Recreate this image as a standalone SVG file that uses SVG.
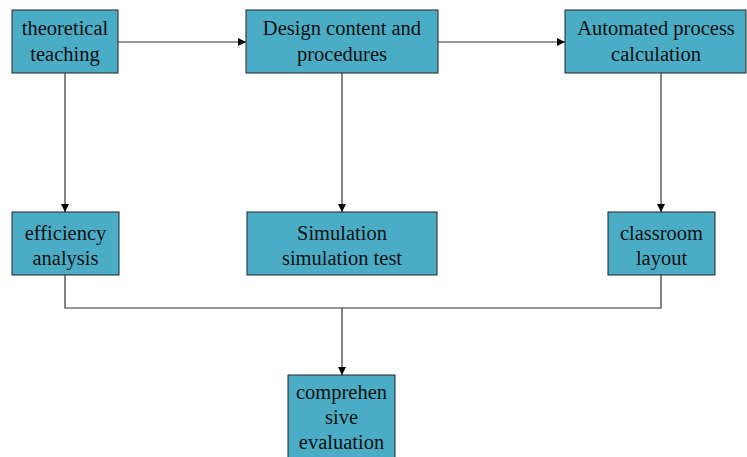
<svg xmlns="http://www.w3.org/2000/svg" width="747" height="457" viewBox="0 0 747 457">
<style>
.box{fill:#4BACC6;stroke:#222;stroke-width:1}
.t{font-family:"Liberation Serif","Times New Roman",serif;font-size:20.5px;fill:#111;text-anchor:middle}
.c{fill:none;stroke:#333;stroke-width:1.2}
</style>
<defs>
<marker id="ah" viewBox="0 0 10 10" refX="10" refY="5" markerWidth="8" markerHeight="8" markerUnits="userSpaceOnUse" orient="auto">
<path d="M0,0 L10,5 L0,10 z" fill="#000"/>
</marker>
</defs>
<rect width="747" height="457" fill="#fff"/>
<g id="connectors">
<line class="c" x1="118" y1="42" x2="246" y2="42" marker-end="url(#ah)"/>
<line class="c" x1="438" y1="42" x2="565" y2="42" marker-end="url(#ah)"/>
<line class="c" x1="65" y1="73" x2="65" y2="212" marker-end="url(#ah)"/>
<line class="c" x1="342" y1="73" x2="342" y2="212" marker-end="url(#ah)"/>
<line class="c" x1="661" y1="73" x2="661" y2="212" marker-end="url(#ah)"/>
<polyline class="c" points="65,275 65,308 661,308 661,275"/>
<line class="c" x1="342" y1="308" x2="342" y2="375" marker-end="url(#ah)"/>
</g>
<g id="theoretical">
<rect class="box" x="12" y="10" width="106" height="63"/>
<text class="t" x="65" y="35">theoretical</text>
<text class="t" x="65" y="61">teaching</text>
</g>
<g id="design">
<rect class="box" x="246" y="10" width="192" height="63"/>
<text class="t" x="342" y="35">Design content and</text>
<text class="t" x="342" y="61">procedures</text>
</g>
<g id="automated">
<rect class="box" x="565" y="10" width="181" height="63"/>
<text class="t" x="656" y="35">Automated process</text>
<text class="t" x="656" y="61">calculation</text>
</g>
<g id="efficiency">
<rect class="box" x="12" y="212" width="107" height="63"/>
<text class="t" x="65.5" y="240">efficiency</text>
<text class="t" x="65.5" y="265">analysis</text>
</g>
<g id="simulation">
<rect class="box" x="247" y="212" width="190" height="63"/>
<text class="t" x="342" y="240">Simulation</text>
<text class="t" x="342" y="265">simulation test</text>
</g>
<g id="classroom">
<rect class="box" x="608" y="212" width="107" height="63"/>
<text class="t" x="661.5" y="240">classroom</text>
<text class="t" x="661.5" y="265">layout</text>
</g>
<g id="comprehensive">
<rect class="box" x="288" y="375" width="107" height="90"/>
<text class="t" x="341.5" y="399">comprehen</text>
<text class="t" x="341.5" y="424">sive</text>
<text class="t" x="341.5" y="449">evaluation</text>
</g>
</svg>
